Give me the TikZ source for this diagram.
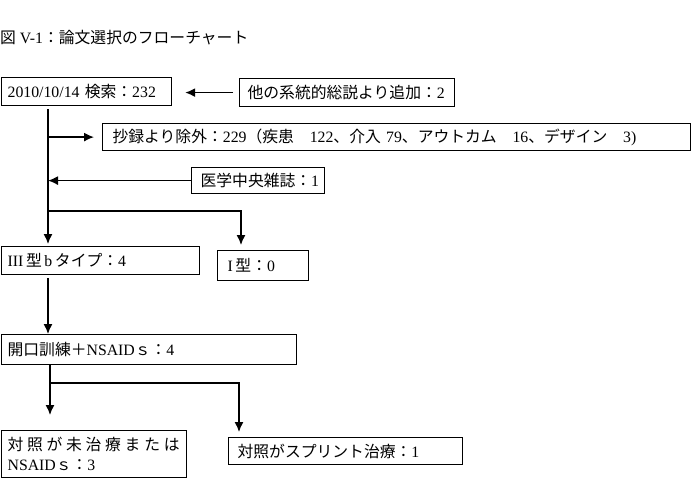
\documentclass[tikz,border=0pt]{standalone}
\usepackage{fontspec}
\setmainfont{Liberation Serif}
\newfontfamily\jpfont{Noto Sans CJK JP}
\newcommand\J[1]{{\jpfont #1}}
\usetikzlibrary{arrows.meta}
\begin{document}
\begin{tikzpicture}[x=1pt,y=-1pt,
  every node/.style={font=\fontsize{15.8}{20}\selectfont},
  box/.style={draw, line width=1.2pt, anchor=north west, inner xsep=8pt, inner ysep=0pt, align=left},
  ln/.style={line width=1.4pt},
  arr/.style={ln, -{Latex[length=10pt,width=9pt]}}]
\useasboundingbox (0,0) rectangle (696,488);
\node[anchor=west, inner sep=0pt] (title) at (0,38) {\J{図} V-1\J{：論文選択のフローチャート}};
\node[box, inner xsep=6pt, text width=158pt, minimum height=28pt] (b1) at (1,77) {2010/10/14 \J{検索：}232};
\node[box, text width=199pt, minimum height=28pt] (b2) at (239,78) {\J{他の系統的総説より追加：}2};
\node[box, inner xsep=10pt, text width=568pt, minimum height=27pt] (b3) at (102,123) {\J{抄録より除外：}229\J{（疾患　}122\J{、介入} 79\J{、アウトカム　}16\J{、デザイン　}3)};
\node[box, inner xsep=9pt, text width=115pt, minimum height=26pt] (b4) at (191,167) {\J{医学中央雑誌：}1};
\node[box, inner xsep=6pt, text width=186pt, minimum height=28pt] (b5) at (1,246) {III\,\J{型}\,b\,\J{タイプ：}4};
\node[box, inner xsep=10pt, text width=71pt, minimum height=30pt] (b6) at (217,250) {I\,\J{型：}0};
\node[box, inner xsep=6pt, text width=283pt, minimum height=30pt] (b7) at (1,334) {\J{開口訓練＋}NSAID\J{ｓ：}4};
\node[box, inner xsep=6pt, text width=173pt, minimum height=47pt] (b8) at (1,430) {\makebox[172pt][s]{\J{対\hfill 照\hfill が\hfill 未\hfill 治\hfill 療\hfill ま\hfill た\hfill は}}\\NSAID\J{ｓ：}3};
\node[box, inner xsep=9pt, text width=216pt, minimum height=27pt] (b9) at (228,437) {\J{対照がスプリント治療：}1};
\coordinate (t) at (48,0);
\coordinate (br1) at (48,211);
\coordinate (t2) at (50,383);
\draw[arr, shorten <=6pt, shorten >=13pt] (b2.west) -- (b2.west -| b1.east);
\draw[arr, shorten <=3pt, shorten >=2pt] (b1.south -| t) -- (b5.north -| t);
\draw[arr, shorten >=8pt] (b3.west -| t) -- (b3.west);
\draw[arr] (b4.west) -- (b4.west -| t);
\draw[arr, shorten >=5pt] (br1) -| ([xshift=24pt]b6.north west);
\draw[arr, shorten <=3pt] (b5.south -| t) -- (b7.north -| t);
\draw[ln] (b7.south -| t2) -- (t2);
\draw[arr, shorten >=15pt] (t2) -- (b8.north -| t2);
\draw[arr, shorten >=5pt] (t2) -| ([xshift=11pt]b9.north west);
\end{tikzpicture}
\end{document}
